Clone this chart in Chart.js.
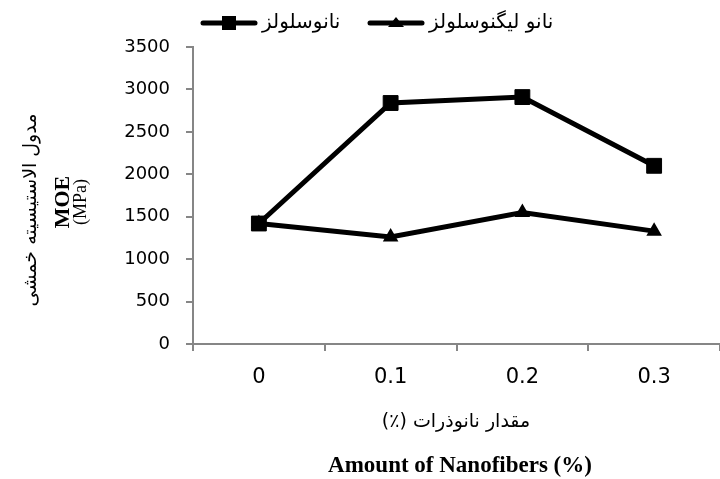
<!DOCTYPE html>
<html>
<head>
<meta charset="utf-8">
<script src="https://cdn.jsdelivr.net/npm/chart.js@4.4.0/dist/chart.umd.min.js"></script>
<style>
  html, body { margin: 0; padding: 0; background: #fff; }
</style>
</head>
<body>
<canvas id="moeChart" width="720" height="479"></canvas>
<script>
/* ==========================================================================
   MOE x nanofiber amount - line chart
   ========================================================================== */

const categories = ['0', '0.1', '0.2', '0.3'];
const nanoCellulose = [1420, 2840, 2910, 2100];
const nanoLignoCellulose = [1420, 1260, 1550, 1330];
const seriesNames = ['نانوسلولز', 'نانو لیگنوسلولز'];
const yTicks = [0, 500, 1000, 1500, 2000, 2500, 3000, 3500];

const xTitleFa = 'مقدار نانوذرات (٪)';
const xTitleEn = 'Amount of Nanofibers (%)';
const yTitleFa = 'مدول الاستیسیته خمشی';
const yTitleEn = 'MOE';
const yTitleUnit = '(MPa)';

const axisGrey = '#868686';

/* ===============================
   legend keys (line + marker)
================================= */
function legendKey(shape) {
    const c = document.createElement('canvas');
    c.width = 58;
    c.height = 18;
    const g = c.getContext('2d');
    g.strokeStyle = '#000';
    g.fillStyle = '#000';
    g.lineWidth = 5;
    g.lineCap = 'round';
    g.beginPath();
    g.moveTo(3, 9);
    g.lineTo(55, 9);
    g.stroke();
    if (shape === 'rect') {
        g.fillRect(22, 2, 14, 14);
    } else {
        g.beginPath();
        g.moveTo(29, 3);
        g.lineTo(37, 13);
        g.lineTo(21, 13);
        g.closePath();
        g.fill();
    }
    return c;
}
const legendKeys = [legendKey('rect'), legendKey('triangle')];

/* ===============================
   plugins
================================= */
// legend drawn by hand: the built-in one mangled the persian labels
const rtlLegend = {
    id: 'rtlLegend',
    afterDraw(chart) {
        const { ctx } = chart;
        const startX = [200, 367];
        const y = 23;
        ctx.save();
        ctx.fillStyle = '#000';
        ctx.font = '20px "DejaVu Sans"';
        ctx.textBaseline = 'middle';
        ctx.textAlign = 'left';
        ctx.direction = 'rtl';
        chart.data.datasets.forEach((ds, i) => {
            const key = legendKeys[i];
            ctx.drawImage(key, startX[i], y - key.height / 2);
            ctx.fillText(ds.label, startX[i] + key.width + 4, y);
        });
        ctx.restore();
    }
};

// axis titles: mixed fonts, so drawn by hand
const axisTitles = {
    id: 'axisTitles',
    afterDraw(chart) {
        const { ctx } = chart;
        const cx = 456;
        ctx.save();
        ctx.fillStyle = '#000';
        ctx.textAlign = 'center';
        ctx.textBaseline = 'middle';

        ctx.direction = 'rtl';
        ctx.font = '19px "DejaVu Sans"';
        ctx.fillText(xTitleFa, cx, 422);

        ctx.direction = 'ltr';
        ctx.font = 'bold 23px "Liberation Serif"';
        ctx.fillText(xTitleEn, cx + 4, 466);

        const yLines = [
            [yTitleFa, 31, 210, '19px "DejaVu Sans"', 'rtl'],
            [yTitleEn, 63, 202, 'bold 22px "Liberation Serif"', 'ltr'],
            [yTitleUnit, 81, 202, '18px "Liberation Serif"', 'ltr']
        ];
        yLines.forEach(([txt, x, y, font, dir]) => {
            ctx.save();
            ctx.translate(x, y);
            ctx.rotate(-Math.PI / 2);
            ctx.direction = dir;
            ctx.font = font;
            ctx.fillText(txt, 0, 0);
            ctx.restore();
        });
        ctx.restore();
    }
};

/* ===============================
   chart
================================= */
new Chart(document.getElementById('moeChart'), {
    type: 'line',
    data: {
        labels: categories,
        datasets: [
            {
                label: seriesNames[0],
                data: nanoCellulose,
                borderColor: '#000',
                backgroundColor: '#000',
                borderWidth: 5,
                pointStyle: 'rect',
                pointRadius: 10.5,
                pointBorderWidth: 1,
                tension: 0
            },
            {
                label: seriesNames[1],
                data: nanoLignoCellulose,
                borderColor: '#000',
                backgroundColor: '#000',
                borderWidth: 5,
                pointStyle: 'triangle',
                pointRadius: 7,
                pointBorderWidth: 2,
                tension: 0
            }
        ]
    },
    options: {
        responsive: false,
        animation: false,
        devicePixelRatio: 1,
        layout: { autoPadding: false, padding: { top: 47, right: 0, bottom: 0, left: 0 } },
        plugins: {
            tooltip: { enabled: false },
            legend: { display: false }
        },
        scales: {
            x: {
                offset: true,
                afterFit: s => { s.height = 135; },
                border: { color: axisGrey, width: 2 },
                grid: { offset: true, drawOnChartArea: false, tickLength: 7, color: axisGrey, lineWidth: 2 },
                ticks: { color: '#000', padding: 14, font: { family: '"DejaVu Sans"', size: 21 } }
            },
            y: {
                min: 0,
                max: 3500,
                afterBuildTicks: s => { s.ticks = yTicks.map(v => ({ value: v })); },
                afterFit: s => { s.width = 193; },
                border: { color: axisGrey, width: 2 },
                grid: { drawOnChartArea: false, tickLength: 7, color: axisGrey, lineWidth: 2 },
                ticks: {
                    color: '#000',
                    padding: 16,
                    font: { family: '"DejaVu Sans"', size: 18 },
                    callback: v => String(v)
                }
            }
        }
    },
    plugins: [rtlLegend, axisTitles]
});
</script>
</body>
</html>
